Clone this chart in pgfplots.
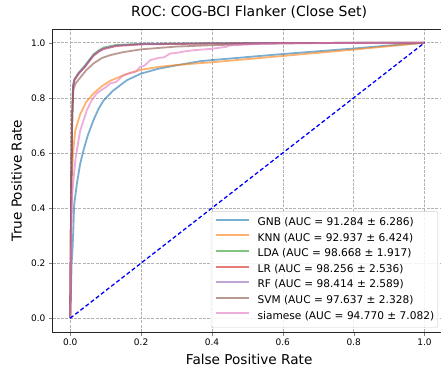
\documentclass[border=0pt]{standalone}
\usepackage{pgfplots}
\pgfplotsset{compat=1.18}
\usepackage{fontspec}
\setmainfont{DejaVu Sans}
\definecolor{tabblue}{HTML}{1F77B4}
\definecolor{taborange}{HTML}{FF7F0E}
\definecolor{tabgreen}{HTML}{2CA02C}
\definecolor{tabred}{HTML}{D62728}
\definecolor{tabpurple}{HTML}{9467BD}
\definecolor{tabbrown}{HTML}{8C564B}
\definecolor{tabpink}{HTML}{E377C2}
\begin{document}
\begin{tikzpicture}
\useasboundingbox (-52.5pt,-38pt) rectangle (388.5pt,332pt);
\begin{axis}[
  scale only axis,
  width=393.3pt, height=303.05pt,
  xmin=-0.05, xmax=1.06, ymin=-0.05, ymax=1.05,
  xtick={0,0.2,0.4,0.6,0.8,1.0}, ytick={0,0.2,0.4,0.6,0.8,1.0},
  xticklabel style={/pgf/number format/.cd,fixed,fixed zerofill,precision=1},
  yticklabel style={/pgf/number format/.cd,fixed,fixed zerofill,precision=1},
  /pgf/number format/assume math mode=true,
  tick label style={font=\fontsize{9}{10.5}\selectfont},
  tick align=outside, major tick length=3.5pt,
  xtick pos=bottom, ytick pos=left,
  grid=major,
  major grid style={black!30, dash pattern=on 3pt off 1.3pt, line width=0.6pt},
  axis line style={black!85, line width=0.8pt},
  title={ROC: COG-BCI Flanker (Close Set)},
  title style={font=\fontsize{14}{16}\selectfont, at={([yshift=6.7pt]axis description cs:0.5,1)}, anchor=base},
  xlabel={False Positive Rate},
  ylabel={True Positive Rate},
  xlabel style={font=\fontsize{13.6}{15}\selectfont, at={([yshift=-32.3pt]axis description cs:0.5,0)}, anchor=base},
  ylabel style={font=\fontsize{13.6}{15}\selectfont, at={([xshift=-30.8pt]axis description cs:0,0.5)}, anchor=base},
  legend style={at={(1,0)}, anchor=south east, xshift=-7.8pt, yshift=4.3pt,
    font=\fontsize{10.6}{12}\selectfont, draw=black!20, fill=white, fill opacity=0.85, text opacity=1,
    rounded corners=2pt,
    nodes={inner sep=0pt, text height=7.8pt, text depth=2.5pt},
    row sep=5.3pt, column sep=8pt, inner xsep=3.6pt, inner ysep=6pt},
  legend cell align=left,
  legend image code/.code={\draw[#1, line width=2pt] (0pt,3pt) -- (33pt,3pt);},
  every axis plot/.append style={line width=1.8pt, opacity=0.6},
]
\addplot[tabblue] coordinates {(0,0) (0.002,0.1) (0.004,0.2) (0.0066,0.25) (0.009,0.33) (0.011,0.41) (0.015,0.45) (0.019,0.49) (0.028,0.56) (0.0376,0.61) (0.05,0.665) (0.066,0.72) (0.08,0.76) (0.094,0.79) (0.12,0.825) (0.16,0.864) (0.2,0.888) (0.25,0.906) (0.3,0.918) (0.367,0.933) (0.4,0.937) (0.5,0.948) (0.6,0.959) (0.7,0.969) (0.8,0.979) (0.9,0.99) (1,1)};
\addlegendentry{GNB (AUC = 91.284 ± 6.286)}
\addplot[taborange] coordinates {(0,0) (0.002,0.3) (0.004,0.5) (0.008,0.6) (0.014,0.68) (0.028,0.74) (0.045,0.785) (0.066,0.816) (0.09,0.843) (0.113,0.862) (0.16,0.887) (0.2,0.902) (0.254,0.913) (0.3,0.919) (0.367,0.926) (0.4,0.929) (0.6,0.952) (0.8,0.975) (1,1)};
\addlegendentry{KNN (AUC = 92.937 ± 6.424)}
\addplot[tabgreen] coordinates {(0,0) (0.003,0.5) (0.005,0.7) (0.008,0.845) (0.012,0.868) (0.024,0.891) (0.042,0.918) (0.055,0.94) (0.066,0.958) (0.08,0.972) (0.094,0.982) (0.13,0.992) (0.2,0.996) (0.4,0.998) (0.6,0.999) (1,1)};
\addlegendentry{LDA (AUC = 98.668 ± 1.917)}
\addplot[tabred] coordinates {(0,0) (0.003,0.5) (0.005,0.7) (0.008,0.84) (0.012,0.865) (0.024,0.888) (0.042,0.913) (0.055,0.935) (0.066,0.953) (0.08,0.967) (0.094,0.977) (0.13,0.988) (0.2,0.994) (0.4,0.997) (0.6,0.999) (1,1)};
\addlegendentry{LR (AUC = 98.256 ± 2.536)}
\addplot[tabpurple] coordinates {(0,0) (0.003,0.5) (0.005,0.7) (0.008,0.842) (0.012,0.866) (0.024,0.889) (0.042,0.915) (0.055,0.937) (0.066,0.955) (0.08,0.969) (0.094,0.979) (0.13,0.99) (0.2,0.995) (0.4,0.998) (0.6,0.999) (1,1)};
\addlegendentry{RF (AUC = 98.414 ± 2.589)}
\addplot[tabbrown] coordinates {(0,0) (0.003,0.5) (0.006,0.75) (0.009,0.83) (0.015,0.852) (0.028,0.873) (0.045,0.9) (0.066,0.925) (0.09,0.945) (0.113,0.955) (0.15,0.966) (0.2,0.976) (0.3,0.986) (0.4,0.991) (0.537,0.996) (0.7,0.999) (1,1)};
\addlegendentry{SVM (AUC = 97.637 ± 2.328)}
\addplot[tabpink] coordinates {(0,0) (0.003,0.3) (0.006,0.45) (0.009,0.5) (0.015,0.58) (0.028,0.68) (0.047,0.755) (0.06,0.79) (0.075,0.816) (0.09,0.83) (0.1,0.838) (0.113,0.852) (0.13,0.858) (0.15,0.882) (0.17,0.89) (0.185,0.895) (0.198,0.913) (0.21,0.917) (0.226,0.937) (0.25,0.945) (0.265,0.947) (0.282,0.961) (0.3,0.963) (0.32,0.968) (0.35,0.973) (0.4,0.978) (0.44,0.985) (0.45,0.99) (0.5,0.994) (0.537,0.996) (0.6,0.998) (0.8,0.999) (1,1)};
\addlegendentry{siamese (AUC = 94.770 ± 7.082)}
\addplot[blue, line width=1.3pt, opacity=1, dash pattern=on 4pt off 2.5pt, forget plot] coordinates {(0,0) (1,1)};
\end{axis}
\end{tikzpicture}
\end{document}
